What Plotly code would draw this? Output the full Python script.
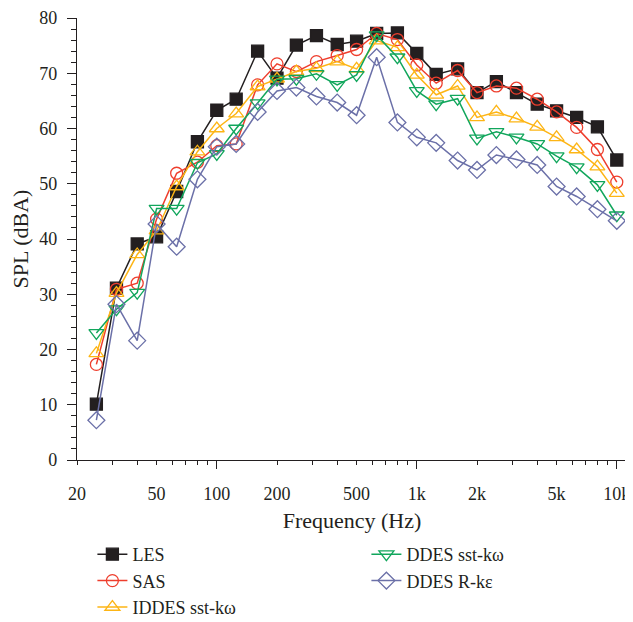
import plotly.graph_objects as go
import numpy as np

freq = [25, 31.5, 40, 50, 63, 80, 100, 125, 160, 200, 250, 315, 400, 500, 630, 800,
        1000, 1250, 1600, 2000, 2500, 3150, 4000, 5000, 6300, 8000, 10000]

les = [10.1, 31.1, 39.1, 40.4, 48.6, 57.6, 63.3, 65.3, 74.0, 69.1, 75.1, 76.8, 75.2, 75.8, 77.2, 77.3,
       73.6, 69.8, 70.8, 66.5, 68.5, 66.5, 64.4, 63.2, 62.0, 60.3, 54.3]
sas = [17.3, 30.9, 32.0, 43.6, 51.9, 53.9, 56.9, 57.2, 67.9, 71.7, 70.3, 72.1, 73.2, 74.3, 77.2, 76.1,
       71.5, 68.2, 70.5, 66.5, 67.7, 67.3, 65.3, 63.0, 60.2, 56.2, 50.3]
iddes = [19.3, 30.2, 37.2, 41.5, 49.5, 55.8, 60.0, 62.7, 67.6, 69.0, 70.3, 70.9, 72.1, 70.8, 75.9, 74.7,
         69.7, 66.1, 67.7, 62.0, 63.0, 61.8, 60.3, 58.4, 56.2, 53.1, 48.3]
ddes_sst = [23.0, 27.3, 30.3, 45.5, 45.5, 53.8, 55.4, 60.0, 64.6, 68.9, 69.0, 69.9, 67.9, 69.7, 76.9, 72.9,
            66.8, 64.4, 65.4, 58.2, 59.4, 58.4, 57.2, 55.0, 53.0, 49.8, 44.3]
ddes_rke = [7.2, 28.2, 21.6, 42.7, 38.6, 50.8, 56.7, 57.2, 63.0, 66.8, 67.4, 65.8, 64.7, 62.4, 72.9, 61.1,
            58.4, 57.4, 54.2, 52.5, 55.2, 54.4, 53.4, 49.5, 47.7, 45.4, 43.3]

names = ["LES", "SAS", "IDDES sst-k\u03c9", "DDES sst-k\u03c9", "DDES R-k\u03b5"]
series = [les, sas, iddes, ddes_sst, ddes_rke]
colors = ["#231f20", "#ee3e2d", "#fdb515", "#11a65c", "#6b70a8"]
symbols = ["square", "circle-open", "triangle-up-open", "triangle-down-open", "diamond-open"]
sizes = [12, 12, 13, 13, 13]
ranks = [1, 3, 5, 2, 4]

x_tick_vals = [20, 50, 100, 200, 500, 1000, 2000, 5000, 10000]
x_tick_text = ["20", "50", "100", "200", "500", "1k", "2k", "5k", "10k"]
x_decade_vals = [100, 1000, 10000]
x_minor_vals = [30, 40, 60, 70, 80, 90, 300, 400, 600, 700, 800, 900,
                3000, 4000, 6000, 7000, 8000, 9000]

FONT = "Liberation Serif"
xr = [np.log10(20), np.log10(20) + 2.75]

fig = go.Figure()
for name, ys, c, s, sz, rk in zip(names, series, colors, symbols, sizes, ranks):
    fig.add_trace(go.Scatter(
        x=freq, y=ys, name=name, mode="lines+markers", legendrank=rk,
        line=dict(color=c, width=1.5),
        marker=dict(symbol=s, size=sz, color=c, line=dict(color=c, width=1.3)),
    ))
fig.add_trace(go.Scatter(x=[], y=[], xaxis="x2", showlegend=False, hoverinfo="skip"))

fig.update_layout(
    width=625, height=614,
    margin=dict(l=69, r=6, t=10, b=162, autoexpand=False),
    plot_bgcolor="white", paper_bgcolor="white",
    font=dict(family=FONT, size=18, color="#231f20"),
    showlegend=True,
    legend=dict(orientation="h", x=0.028, xanchor="left", y=-0.172, yanchor="top",
                entrywidth=229, entrywidthmode="pixels", traceorder="normal",
                font=dict(family=FONT, size=18), itemsizing="trace",
                tracegroupgap=0),
    xaxis=dict(type="log", range=xr, tickvals=x_tick_vals, ticktext=x_tick_text,
               ticks="outside", ticklen=4, tickwidth=1, tickcolor="#231f20",
               showline=True, linecolor="#231f20", linewidth=1.2, showgrid=False,
               zeroline=False, automargin=False, ticklabeloverflow="allow",
               ticklabelstandoff=13,
               minor=dict(tickvals=x_minor_vals, ticks="outside", ticklen=4,
                          tickcolor="#231f20", showgrid=False),
               title=dict(text="Frequency (Hz)", standoff=9),
               tickfont=dict(size=18)),
    xaxis2=dict(type="log", range=xr, overlaying="x", anchor="y", side="bottom",
                tickvals=x_decade_vals, ticks="outside", ticklen=8, tickwidth=1.2,
                tickcolor="#231f20", showticklabels=False, showline=False,
                showgrid=False, zeroline=False, automargin=False),
    yaxis=dict(range=[0, 80], dtick=10, ticks="outside", ticklen=9, tickwidth=1.2,
               tickcolor="#231f20", showline=True, linecolor="#231f20", linewidth=1.2,
               showgrid=False, zeroline=False, automargin=False,
               ticklabelstandoff=6,
               minor=dict(dtick=2, ticks="outside", ticklen=5, tickcolor="#231f20",
                          showgrid=False),
               title=dict(text="SPL (dBA)", standoff=14),
               tickfont=dict(size=18)),
)

fig.write_html("out.html")
